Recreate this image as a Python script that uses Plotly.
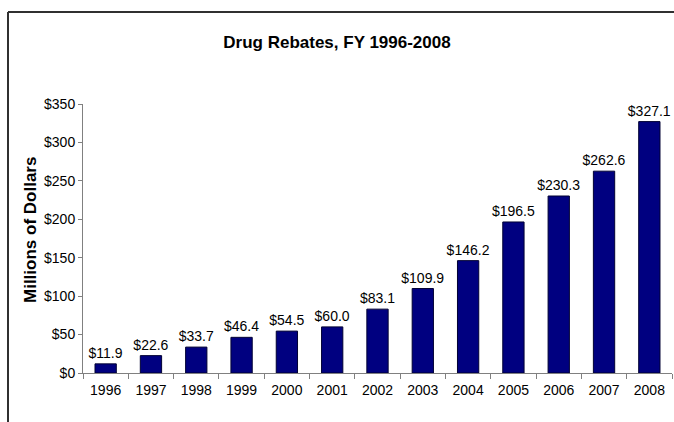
import plotly.graph_objects as go

years = ["1996", "1997", "1998", "1999", "2000", "2001", "2002", "2003", "2004", "2005", "2006", "2007", "2008"]
rebates = [11.9, 22.6, 33.7, 46.4, 54.5, 60.0, 83.1, 109.9, 146.2, 196.5, 230.3, 262.6, 327.1]
title_text = "Drug Rebates, FY 1996-2008"
y_title = "Millions of Dollars"

FONT = "Liberation Sans, Arial, sans-serif"

fig = go.Figure(go.Bar(
    x=years, y=rebates,
    marker=dict(color="#000080", line=dict(color="#000033", width=1)),
    width=0.47,
    texttemplate="$%{y:.1f}", textposition="outside", constraintext="none",
    textfont=dict(family=FONT, size=14, color="black"),
    cliponaxis=False,
))

fx0 = (8 - 83) / 589
fy1 = 1 + (104 - 12) / 269
frame = dict(color="#303030", width=2)

fig.update_layout(
    width=674, height=422,
    margin=dict(l=83, r=2, t=104, b=49),
    paper_bgcolor="white", plot_bgcolor="white",
    showlegend=False,
    title=dict(text="<b>" + title_text + "</b>", x=0.5, xref="container", xanchor="center",
               y=1 - 42 / 422, yanchor="middle",
               font=dict(family=FONT, size=17, color="black")),
    font=dict(family=FONT, size=14, color="black"),
    xaxis=dict(type="category", showline=True, linecolor="#808080", linewidth=1,
               ticks="outside", tickson="boundaries", ticklen=5, tickcolor="#808080",
               ticklabelstandoff=4,
               showgrid=False, tickfont=dict(size=14)),
    yaxis=dict(range=[0, 350], dtick=50, tickprefix="$", tickformat=".0f",
               showline=True, linecolor="#808080", linewidth=1,
               ticks="outside", ticklen=4, tickcolor="#808080",
               showgrid=False, zeroline=False, tickfont=dict(size=14)),
    annotations=[dict(text="<b>" + y_title + "</b>", xref="paper", yref="paper",
                      x=(30 - 83) / 589, y=(373 - 230) / 269, textangle=-90, showarrow=False,
                      xanchor="center", yanchor="middle",
                      font=dict(family=FONT, size=17, color="black"))],
    shapes=[
        dict(type="line", xref="paper", yref="paper", x0=fx0, x1=1.1, y0=fy1, y1=fy1, line=frame),
        dict(type="line", xref="paper", yref="paper", x0=fx0, x1=fx0, y0=-0.5, y1=fy1, line=frame),
    ],
)

fig.write_html("out.html", config={"displayModeBar": False},
               post_script="document.body.style.margin='0';document.body.style.overflow='hidden';")
